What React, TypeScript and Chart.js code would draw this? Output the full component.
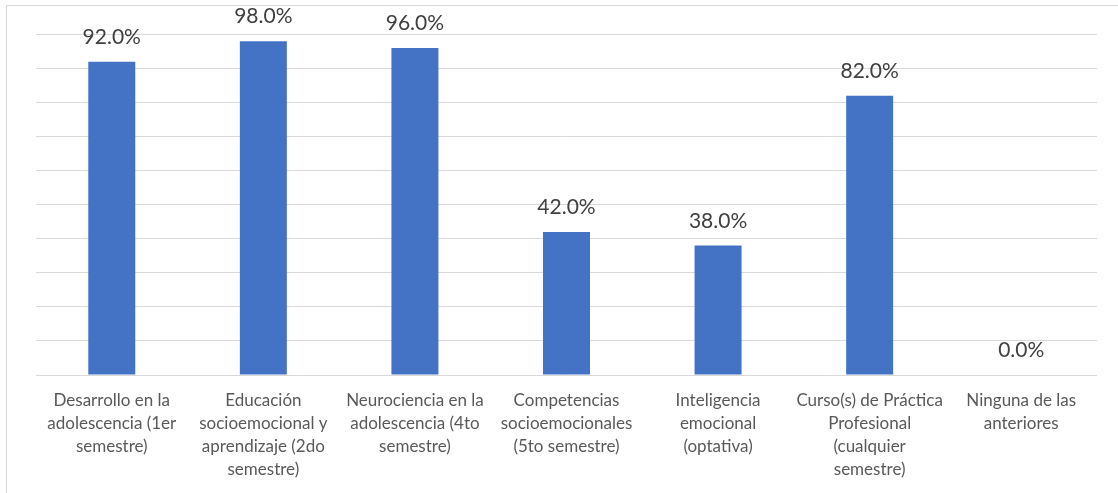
import React, { useEffect, useRef } from "react";
import { Chart, registerables, Plugin } from "chart.js";

Chart.register(...registerables);

// Courses (category labels, wrapped onto lines)
const categories: string[][] = [
  ["Desarrollo en la", "adolescencia (1er", "semestre)"],
  ["Educación", "socioemocional y", "aprendizaje (2do", "semestre)"],
  ["Neurociencia en la", "adolescencia (4to", "semestre)"],
  ["Competencias", "socioemocionales", "(5to semestre)"],
  ["Inteligencia", "emocional", "(optativa)"],
  ["Curso(s) de Práctica", "Profesional", "(cualquier", "semestre)"],
  ["Ninguna de las", "anteriores"],
];

// Percentage of respondents per course
const percentages: number[] = [92.0, 98.0, 96.0, 42.0, 38.0, 82.0, 0.0];

const BAR_COLOR = "#4472C4";
const GRID_COLOR = "#D9D9D9";
const FONT_FAMILY = "Lato, 'Open Sans', sans-serif";

// Draws the percentage above each bar
const valueLabels: Plugin<"bar"> = {
  id: "valueLabels",
  afterDatasetsDraw(chart) {
    const ctx = chart.ctx;
    const meta = chart.getDatasetMeta(0);
    const data = chart.data.datasets[0].data as number[];
    ctx.save();
    ctx.font = `21px ${FONT_FAMILY}`;
    ctx.fillStyle = "#404040";
    ctx.textAlign = "center";
    ctx.textBaseline = "alphabetic";
    meta.data.forEach((bar, i) => {
      const { x, y } = bar.getProps(["x", "y"], true) as { x: number; y: number };
      ctx.fillText(`${data[i].toFixed(1)}%`, x, y - 18);
    });
    ctx.restore();
  },
};

export default function App() {
  const canvasRef = useRef<HTMLCanvasElement | null>(null);

  useEffect(() => {
    if (!canvasRef.current) return;
    const chart = new Chart(canvasRef.current, {
      type: "bar",
      data: {
        labels: categories,
        datasets: [
          {
            data: percentages,
            backgroundColor: BAR_COLOR,
            borderWidth: 0,
            categoryPercentage: 1,
            barPercentage: 0.31,
          },
        ],
      },
      options: {
        animation: false,
        responsive: false,
        maintainAspectRatio: false,
        layout: { padding: { top: 34.5, right: 21, left: 0, bottom: 0 } },
        plugins: {
          legend: { display: false },
          tooltip: { enabled: false },
          title: { display: false },
        },
        scales: {
          x: {
            grid: { display: false, drawTicks: false },
            border: { display: false },
            ticks: {
              autoSkip: false,
              maxRotation: 0,
              minRotation: 0,
              padding: 14,
              color: "#595959",
              font: { family: FONT_FAMILY, size: 17, lineHeight: 23 / 17 },
            },
            afterFit(scale) {
              scale.height = 118;
            },
          },
          y: {
            min: 0,
            max: 100,
            ticks: { display: false, stepSize: 10 },
            grid: { color: GRID_COLOR, lineWidth: 1, drawTicks: false },
            border: { display: false },
            afterFit(scale) {
              scale.width = 36;
            },
          },
        },
      },
      plugins: [valueLabels],
    });
    return () => chart.destroy();
  }, []);

  return (
    <div
      style={{
        position: "fixed",
        left: 0,
        top: 0,
        width: 1118,
        height: 493,
        background: "#FFFFFF",
        overflow: "hidden",
      }}
    >
      <div
        style={{
          position: "absolute",
          left: 6,
          top: 5,
          width: 1130,
          height: 500,
          border: `1px solid ${GRID_COLOR}`,
          boxSizing: "border-box",
        }}
      />
      <canvas
        ref={canvasRef}
        width={1118}
        height={493}
        style={{ position: "absolute", left: 0, top: 0, width: 1118, height: 493 }}
      />
    </div>
  );
}
